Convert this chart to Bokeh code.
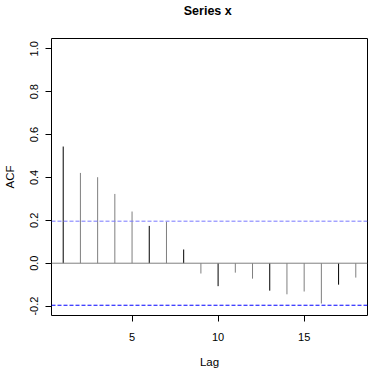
from bokeh.plotting import figure
from bokeh.models import Span, FixedTicker, PrintfTickFormatter, Range1d, ColumnDataSource
from bokeh.embed import file_html
from bokeh.resources import INLINE

# Data
lags = [1, 2, 3, 4, 5, 6, 7, 8, 9, 10, 11, 12, 13, 14, 15, 16, 17, 18]
acf_values = [0.544, 0.421, 0.401, 0.323, 0.241, 0.174, 0.193, 0.064, -0.048,
              -0.107, -0.044, -0.072, -0.128, -0.145, -0.132, -0.188, -0.100, -0.067]
conf_limit = 0.196
x_ticks = [5, 10, 15]
y_ticks = [-0.2, 0.0, 0.2, 0.4, 0.6, 0.8, 1.0]
title_text = "Series  x"
x_label = "Lag"
y_label = "ACF"

# styling: R's rendering shows some lag lines black, others grey (anti-aliasing)
dark_lags = {1, 6, 8, 10, 13, 17}
colors = ["#000000" if l in dark_lags else "#7f7f7f" for l in lags]

FONT = "Liberation Sans"

p = figure(width=372, height=370, output_backend="svg", toolbar_location=None,
           x_range=Range1d(0.32, 18.68), y_range=Range1d(-0.2438, 1.0478),
           min_border_left=50, min_border_right=5, min_border_top=38, min_border_bottom=54,
           background_fill_color="white", border_fill_color="white")

p.title.text = title_text
p.title.align = "center"
p.title.text_font = FONT
p.title.text_font_style = "bold"
p.title.text_font_size = "12.5px"
p.title.text_color = "black"
p.title.standoff = 2
p.title.padding = dict(left=0, right=0, top=0, bottom=20)

p.xgrid.visible = False
p.ygrid.visible = False
p.outline_line_color = "black"
p.outline_line_width = 1
p.outline_line_alpha = 1.0

src = ColumnDataSource(dict(x=lags, y0=[0] * len(lags), y1=acf_values, c=colors))
p.segment(x0="x", y0="y0", x1="x", y1="y1", line_color="c", line_width=1, source=src)

p.add_layout(Span(location=0, dimension="width", line_color="#808080", line_width=1))
p.add_layout(Span(location=conf_limit, dimension="width", line_color="#7777ff",
                  line_width=1, line_dash="4 2"))
p.add_layout(Span(location=-conf_limit, dimension="width", line_color="#0000ff",
                  line_width=1, line_dash="4 2"))

for ax in (p.xaxis[0], p.yaxis[0]):
    ax.axis_line_color = None
    ax.major_tick_line_color = "black"
    ax.major_tick_out = 6
    ax.major_tick_in = 0
    ax.minor_tick_line_color = None
    ax.major_label_text_font = FONT
    ax.major_label_text_font_size = "11px"
    ax.major_label_text_color = "black"
    ax.axis_label_text_font = FONT
    ax.axis_label_text_font_size = "11.5px"
    ax.axis_label_text_font_style = "normal"
    ax.axis_label_text_color = "black"

p.xaxis[0].ticker = FixedTicker(ticks=x_ticks)
p.xaxis[0].formatter = PrintfTickFormatter(format="%d")
p.xaxis[0].axis_label = x_label
p.xaxis[0].major_label_standoff = 11
p.xaxis[0].axis_label_standoff = 12

p.yaxis[0].ticker = FixedTicker(ticks=y_ticks)
p.yaxis[0].formatter = PrintfTickFormatter(format="%.1f")
p.yaxis[0].axis_label = y_label
p.yaxis[0].major_label_orientation = "vertical"
p.yaxis[0].major_label_standoff = 7
p.yaxis[0].axis_label_standoff = 12

open("out.html", "w").write(file_html(p, INLINE))
